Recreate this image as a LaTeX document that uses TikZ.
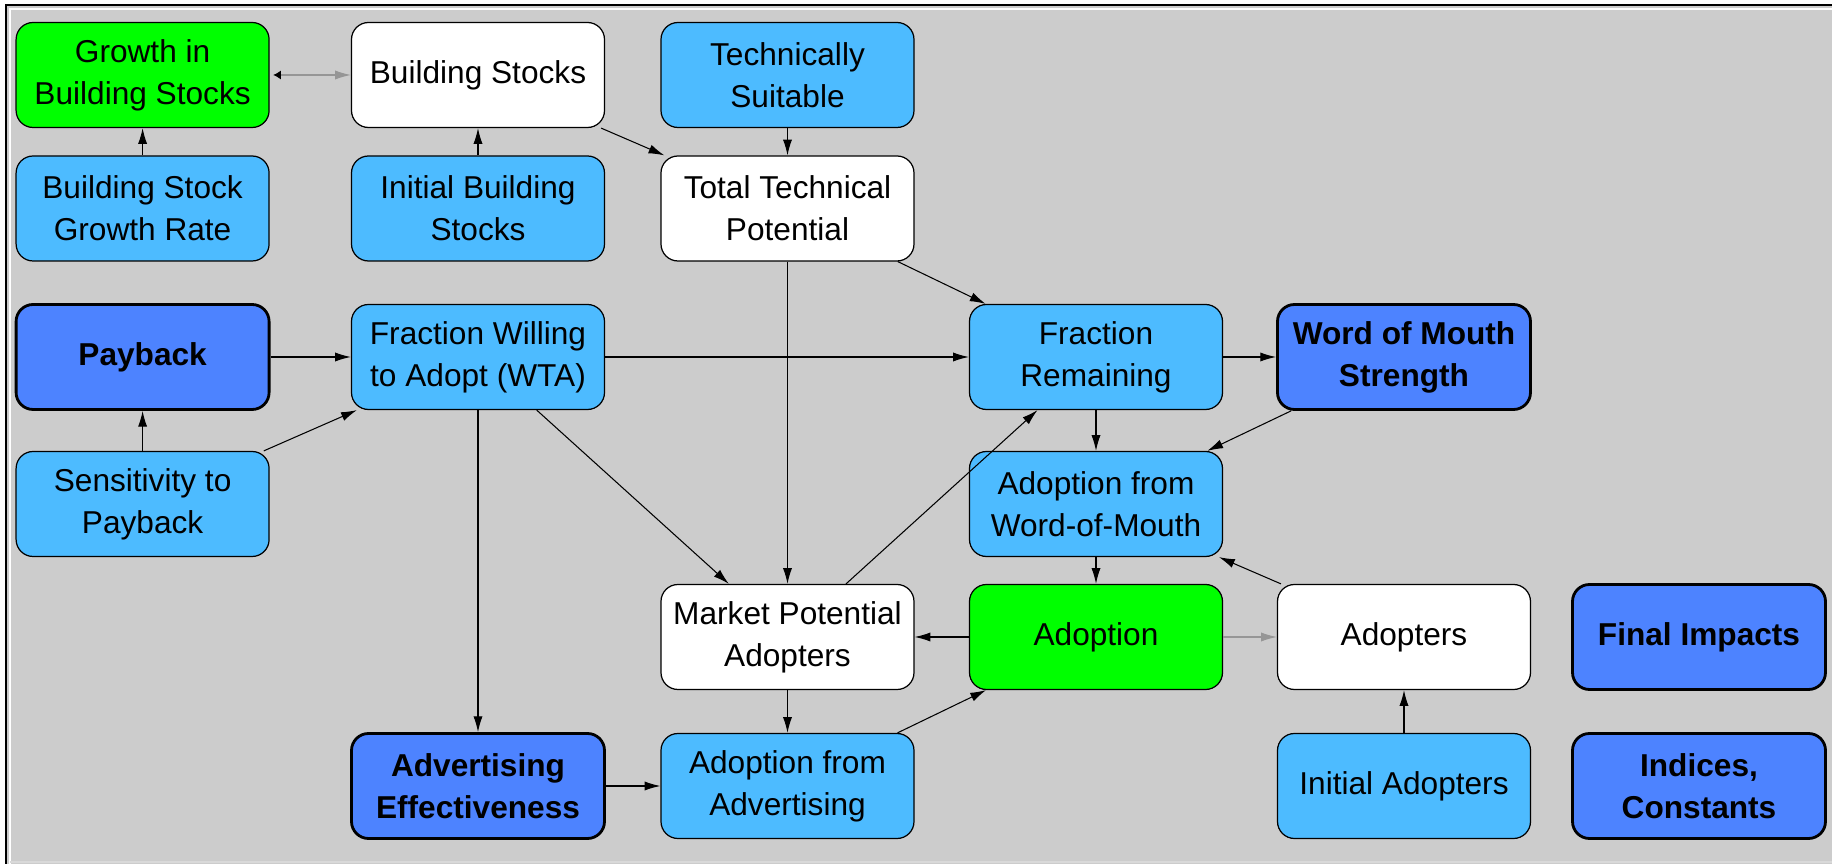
\documentclass[tikz,border=0pt]{standalone}
\usepackage{fontspec}
\setmainfont{Liberation Sans}
\usetikzlibrary{arrows.meta}

\definecolor{canvas}{RGB}{204,204,204}
\definecolor{inputblue}{RGB}{77,187,255}
\definecolor{sectorblue}{RGB}{77,131,255}
\definecolor{flowgreen}{RGB}{0,255,0}
\definecolor{pipegray}{RGB}{150,150,150}

\tikzset{
  var/.style={draw, rounded corners=0.17cm, minimum width=2.53cm, minimum height=1.05cm,
    inner sep=0pt, align=center, line width=0.35pt, font=\fontsize{9}{12}\selectfont},
  input/.style={var, fill=inputblue},
  stockbox/.style={var, fill=white},
  flowbox/.style={var, fill=flowgreen},
  sector/.style={var, fill=sectorblue, line width=0.8pt, font=\fontsize{9}{12}\selectfont\bfseries},
  pipe/.style={pipegray, -{Latex[length=4.5pt,width=2.6pt]}},
}

\begin{document}
\begin{tikzpicture}[>={Latex[length=4.5pt,width=2.6pt]}, line width=0.3pt]
	\useasboundingbox (0,0) rectangle (18.32,-8.64);
	% window
	\fill[canvas] (0.06,-0.05) rectangle (18.32,-8.64);
	\draw[line width=0.6pt] (18.32,-0.05) -- (0.06,-0.05) -- (0.06,-8.64);
	\draw[white, line width=0.6pt] (18.32,-0.09) -- (0.10,-0.09) -- (0.10,-8.64);
	\draw[gray!30, line width=0.6pt] (0.10,-8.62) -- (18.32,-8.62);
	% building stock sector
	\node[flowbox] (growth) at (1.426,-0.75) {Growth in\\Building Stocks};
	\node[stockbox] (stocks) at (4.78,-0.75) {Building Stocks};
	\node[input] (suitable) at (7.875,-0.75) {Technically\\Suitable};
	\node[input] (growthrate) at (1.426,-2.085) {Building Stock\\Growth Rate};
	\node[input] (initstocks) at (4.78,-2.085) {Initial Building\\Stocks};
	\node[stockbox] (techpot) at (7.875,-2.085) {Total Technical\\Potential};
	% adoption sector
	\node[sector] (payback) at (1.426,-3.57) {Payback};
	\node[input] (wta) at (4.78,-3.57) {Fraction Willing\\to Adopt (WTA)};
	\node[input] (remaining) at (10.96,-3.57) {Fraction\\Remaining};
	\node[sector] (wom) at (14.04,-3.57) {Word of Mouth\\Strength};
	\node[input] (sensitivity) at (1.426,-5.04) {Sensitivity to\\Payback};
	\node[input] (adoptwom) at (10.96,-5.04) {Adoption from\\Word-of-Mouth};
	\node[stockbox] (market) at (7.875,-6.37) {Market Potential\\Adopters};
	\node[flowbox] (adoption) at (10.96,-6.37) {Adoption};
	\node[stockbox] (adopters) at (14.04,-6.37) {Adopters};
	\node[sector] (impacts) at (16.99,-6.37) {Final Impacts};
	\node[sector] (advert) at (4.78,-7.86) {Advertising\\Effectiveness};
	\node[input] (adoptadv) at (7.875,-7.86) {Adoption from\\Advertising};
	\node[input] (initadopters) at (14.04,-7.86) {Initial Adopters};
	\node[sector] (indices) at (16.99,-7.86) {Indices,\\Constants};
	% links
	\draw[pipe, {Latex[black,length=2.2pt,width=2.6pt]}-{Latex[length=4.5pt,width=2.6pt]}, shorten <=1pt] (growth) -- (stocks);
	\draw[->] (growthrate) -- (growth);
	\draw[->] (initstocks) -- (stocks);
	\draw[->] (stocks) -- (techpot);
	\draw[->] (suitable) -- (techpot);
	\draw[->] (techpot) -- (remaining);
	\draw[->] (techpot) -- (market);
	\draw[->] (payback) -- (wta);
	\draw[->] (sensitivity) -- (payback);
	\draw[->] (sensitivity) -- (wta);
	\draw[->] (wta) -- (remaining);
	\draw[->] (wta) -- (advert);
	\draw[->] (wta) -- (market);
	\draw[->] (remaining) -- (wom);
	\draw[->] (remaining) -- (adoptwom);
	\draw[->] (wom) -- (adoptwom);
	\draw[->] (market) -- (remaining);
	\draw[->] (adoptwom) -- (adoption);
	\draw[->] (adoption) -- (market);
	\draw[pipe] (adoption) -- (adopters);
	\draw[->] (adopters) -- (adoptwom);
	\draw[->] (initadopters) -- (adopters);
	\draw[->] (market) -- (adoptadv);
	\draw[->] (advert) -- (adoptadv);
	\draw[->] (adoptadv) -- (adoption);
\end{tikzpicture}
\end{document}
